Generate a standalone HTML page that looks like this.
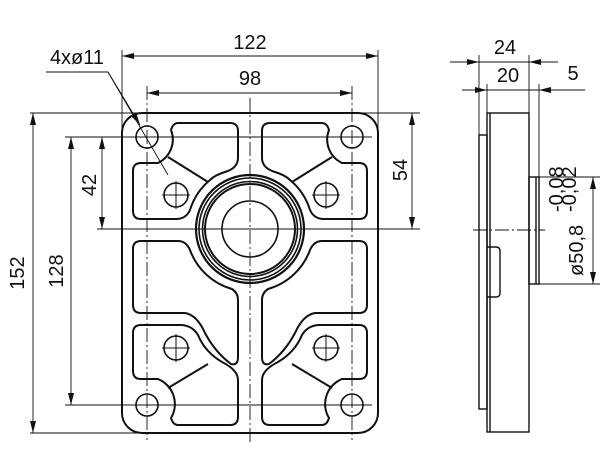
<!DOCTYPE html>
<html><head><style>
html,body{margin:0;padding:0;background:#fff;}
svg{display:block;}
text{font-family:"Liberation Sans",sans-serif;font-size:20px;fill:#111;}
</style></head><body>
<svg width="613" height="471" viewBox="0 0 613 471" xmlns="http://www.w3.org/2000/svg">
<defs>
<marker id="a" viewBox="0 0 12 6" refX="12" refY="3" markerWidth="12" markerHeight="6" orient="auto-start-reverse" markerUnits="userSpaceOnUse"><path d="M0,0 L12,3 L0,6 Z" fill="#111"/></marker>
<g id="tl"><path d="M178,123 H230 Q238,123 238,131 V158 Q238,168 225,172 Q215,175 210,180 A63,63 0 0 0 190,210 Q186,219 176,219 H141 Q133,219 133,211 V171 Q133,163 141,163 H158 A26,26 0 0 0 171,130 Q173,123 178,123 Z"/><line x1="168" y1="157" x2="208" y2="182"/></g>
<g id="ml"><path d="M141,241 H178 Q186,241 190,250 A63,63 0 0 0 232,289 Q238,293 238,300 V357 Q238,366 231,364 Q215,352 205,333 Q197,315 185,313 H141 Q133,313 133,305 V249 Q133,241 141,241 Z"/></g>
<g id="bl"><path d="M141,325 H180 Q192,325 198,335 Q205,352 222,362 Q238,370 238,380 V417 Q238,425 230,425 H178 Q173,425 171,418 A27,27 0 0 0 158,379 H141 Q133,379 133,371 V333 Q133,325 141,325 Z"/><line x1="168" y1="388" x2="208" y2="364"/></g>
</defs>
<g stroke="#111" fill="none">
<g stroke-width="0.9">
<line x1="30" y1="113" x2="140" y2="113"/><line x1="30" y1="433" x2="140" y2="433"/>
<line x1="65" y1="137" x2="372" y2="137"/><line x1="65" y1="405" x2="372" y2="405"/>
<line x1="97" y1="229" x2="420" y2="229"/>
<line x1="355" y1="113" x2="420" y2="113"/>
<line x1="122" y1="50" x2="122" y2="130"/><line x1="378" y1="50" x2="378" y2="130"/>
<line x1="147" y1="86" x2="147" y2="440" stroke-dasharray="14,3,2,3"/><line x1="352" y1="86" x2="352" y2="440" stroke-dasharray="14,3,2,3"/>
<line x1="250" y1="98" x2="250" y2="442" stroke-dasharray="14,3,2,3"/>
<line x1="122" y1="56" x2="378" y2="56" marker-start="url(#a)" marker-end="url(#a)"/>
<line x1="147" y1="93" x2="352" y2="93" marker-start="url(#a)" marker-end="url(#a)"/>
<line x1="33" y1="113" x2="33" y2="433" marker-start="url(#a)" marker-end="url(#a)"/>
<line x1="71" y1="137" x2="71" y2="405" marker-start="url(#a)" marker-end="url(#a)"/>
<line x1="102" y1="137" x2="102" y2="229" marker-start="url(#a)" marker-end="url(#a)"/>
<line x1="412" y1="113" x2="412" y2="229" marker-start="url(#a)" marker-end="url(#a)"/>
<polyline points="46,72 108,72 168,175"/>
<line x1="108" y1="72" x2="140" y2="125" marker-end="url(#a)"/>
<line x1="479" y1="55" x2="479" y2="135"/><line x1="529" y1="55" x2="529" y2="113"/>
<line x1="487" y1="84" x2="487" y2="113"/><line x1="539" y1="84" x2="539" y2="177"/>
<line x1="450" y1="62" x2="479" y2="62" marker-end="url(#a)"/><line x1="479" y1="62" x2="529" y2="62"/><line x1="558" y1="62" x2="529" y2="62" marker-end="url(#a)"/>
<line x1="462" y1="90" x2="487" y2="90" marker-end="url(#a)"/><line x1="487" y1="90" x2="539" y2="90"/><line x1="585" y1="90" x2="539" y2="90" marker-end="url(#a)"/>
<line x1="539" y1="177" x2="600" y2="177"/><line x1="539" y1="284" x2="600" y2="284"/>
<line x1="593" y1="177" x2="593" y2="284" marker-start="url(#a)" marker-end="url(#a)"/>
<line x1="473" y1="230" x2="545" y2="230" stroke-dasharray="14,3,2,3"/>
</g>
<g stroke-width="2">
<rect x="122" y="113" width="256" height="320" rx="20"/>
<use href="#tl"/><use href="#ml"/><use href="#bl"/>
<g transform="translate(500,0) scale(-1,1)"><use href="#tl"/><use href="#ml"/><use href="#bl"/></g>
</g>
<g stroke-width="1.6">
<circle cx="147" cy="137" r="11"/><circle cx="352" cy="137" r="11"/><circle cx="147" cy="405" r="11"/><circle cx="352" cy="405" r="11"/>
<circle cx="176" cy="195" r="12"/><circle cx="326" cy="195" r="12"/><circle cx="176" cy="348" r="12"/><circle cx="326" cy="348" r="12"/>
<circle cx="250" cy="229" r="54" stroke-width="2.2"/><circle cx="250" cy="229" r="51"/><circle cx="250" cy="229" r="47.5"/><circle cx="250" cy="229" r="45" stroke-width="2"/>
<circle cx="250" cy="229" r="28"/>
</g>
<g stroke-width="1">
<path d="M162,195H190M176,181V209M312,195H340M326,181V209M162,348H190M176,334V362M312,348H340M326,334V362"/>
</g>
<g stroke-width="1.4">
<rect x="487" y="113" width="42" height="319"/>
<line x1="490" y1="113" x2="490" y2="432"/>
<rect x="479" y="135" width="8" height="274"/>
<rect x="529" y="177" width="10" height="107"/><line x1="536" y1="177" x2="536" y2="284"/>
<path d="M487,247 H496 Q500,247 500,251 V293 Q500,297 496,297 H487"/>
</g>
</g>
<text x="250" y="49" text-anchor="middle">122</text>
<text x="250" y="85" text-anchor="middle">98</text>
<text x="77" y="64" text-anchor="middle" font-size="19">4xø11</text>
<text x="505" y="54" text-anchor="middle">24</text>
<text x="508" y="82" text-anchor="middle">20</text>
<text x="573" y="80" text-anchor="middle">5</text>
<text transform="translate(24,273) rotate(-90)" text-anchor="middle">152</text>
<text transform="translate(63,271) rotate(-90)" text-anchor="middle">128</text>
<text transform="translate(96,185) rotate(-90)" text-anchor="middle">42</text>
<text transform="translate(407,170) rotate(-90)" text-anchor="middle">54</text>
<text transform="translate(583,276) rotate(-90)" font-size="21">ø50,8</text>
<text transform="translate(563,212) rotate(-90)" font-size="10">-0,08</text>
<text transform="translate(576,212) rotate(-90)" font-size="10">-0,02</text>
</svg>
</body></html>
